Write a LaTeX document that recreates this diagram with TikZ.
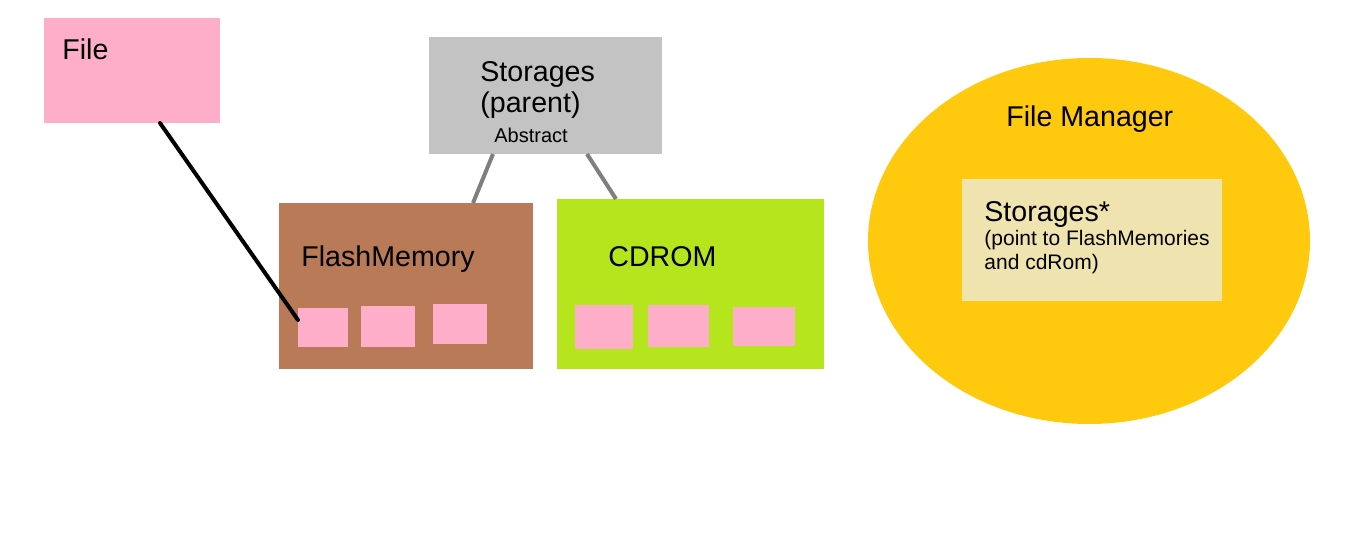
\documentclass[tikz,border=0pt]{standalone}
\usepackage{fontspec}
\setmainfont{Liberation Sans}
\usetikzlibrary{shapes.geometric}

\definecolor{filepink}{RGB}{255,174,201}
\definecolor{storegray}{RGB}{195,195,195}
\definecolor{flashbrown}{RGB}{185,122,87}
\definecolor{cdlime}{RGB}{181,230,29}
\definecolor{managergold}{RGB}{255,201,14}
\definecolor{ptrcream}{RGB}{239,228,176}
\definecolor{linkgray}{RGB}{127,127,127}

\begin{document}
\begin{tikzpicture}[x=0.5pt,y=-0.5pt]
  \tikzset{block/.style = {shape=rectangle,inner sep=0pt,outer sep=0pt}}
  \tikzset{cell/.style = {block,fill=filepink}}
  \tikzset{bigtext/.style = {inner sep=0pt,anchor=base west,font=\fontsize{14.3}{15.5}\selectfont}}
  \tikzset{smalltext/.style = {inner sep=0pt,anchor=base west,font=\fontsize{10.5}{12}\selectfont}}
  \tikzset{inherit/.style = {draw=linkgray,line width=2pt}}
  \tikzset{ref/.style = {draw=black,line width=2pt,line cap=round}}

  \useasboundingbox (0,0) rectangle (1360,560);

	\node[block,fill=filepink,minimum width=88pt,minimum height=52.5pt] (File) at (132,70.5) {};
	\node[block,fill=storegray,minimum width=116.5pt,minimum height=58.5pt] (Storages) at (545.5,95.5) {};
	
	\node[block,fill=flashbrown,minimum width=127pt,minimum height=83pt] (Flash) at (406,286) {};
	\node[block,fill=cdlime,minimum width=133.5pt,minimum height=85pt] (CDROM) at (690.5,284) {};
	
	\node[shape=ellipse,fill=managergold,inner sep=0pt,minimum width=221pt,minimum height=183pt] (Manager) at (1089,241) {};
	\node[block,fill=ptrcream,minimum width=130pt,minimum height=61pt] (Pointer) at (1092,240) {};
	
	% storage cells
	\node[cell,minimum width=25pt,minimum height=19.5pt] (f1) at (323,327.5) {};
	\node[cell,minimum width=27pt,minimum height=20.5pt] (f2) at (388,326.5) {};
	\node[cell,minimum width=27pt,minimum height=20pt] (f3) at (460,324) {};
	\node[cell,minimum width=29pt,minimum height=22pt] (c1) at (604,327) {};
	\node[cell,minimum width=30.5pt,minimum height=21pt] (c2) at (678.5,326) {};
	\node[cell,minimum width=31pt,minimum height=19.5pt] (c3) at (764,326.5) {};
	
	% texts (multi-line ones sit on their last line)
	\node[bigtext] (filename) at (62,60) {File};
	\node[bigtext,align=left] (storagesname) at (480,113) {Storages\\(parent)};
	\node[smalltext,anchor=base,font=\fontsize{10}{12}\selectfont] (abstract) at (531,143) {Abstract};
	\node[bigtext] (flashname) at (301,267) {FlashMemory};
	\node[bigtext] (cdromname) at (608,267) {CDROM};
	\node[bigtext] (managername) at (1006,127) {File Manager};
	\node[bigtext] (pointername) at (984,222) {Storages*};
	\node[smalltext,align=left] (pointernote) at (984,270) {(point to FlashMemories\\and cdRom)};
	
	\draw[ref] ([xshift=14pt]File.south) -- ([yshift=3.75pt]f1.west);
	\draw[inherit] ([xshift=-26.25pt]Storages.south) -- ([xshift=33.5pt]Flash.north);
	\draw[inherit] ([xshift=20.75pt]Storages.south) -- ([xshift=-37.25pt]CDROM.north);

\end{tikzpicture}
\end{document}
